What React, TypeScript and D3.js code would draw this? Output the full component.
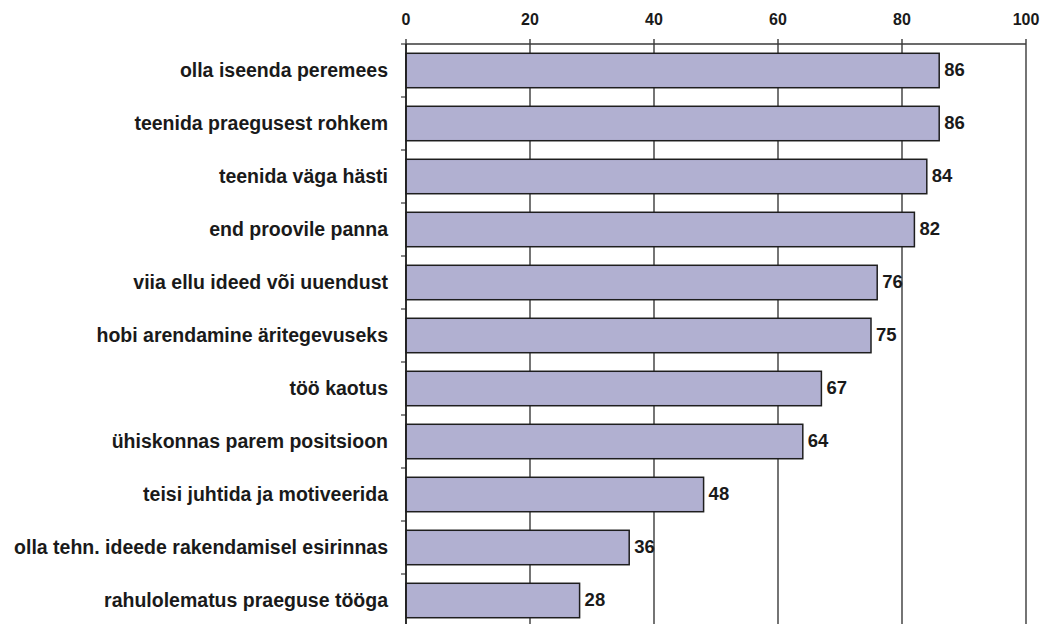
import React from "react";
import * as d3 from "d3";

const categories = [
  "olla iseenda peremees",
  "teenida praegusest rohkem",
  "teenida väga hästi",
  "end proovile panna",
  "viia ellu ideed või uuendust",
  "hobi arendamine äritegevuseks",
  "töö kaotus",
  "ühiskonnas parem positsioon",
  "teisi juhtida ja motiveerida",
  "olla tehn. ideede rakendamisel esirinnas",
  "rahulolematus praeguse tööga",
];
const values = [86, 86, 84, 82, 76, 75, 67, 64, 48, 36, 28];
const xTicks = [0, 20, 40, 60, 80, 100];

const W = 1040;
const H = 624;
const left = 406;
const right = 1026;
const top = 44;
const bandStep = 53;

export default function App() {
  const x = d3.scaleLinear().domain([0, 100]).range([left, right]);
  const y = d3
    .scaleBand<string>()
    .domain(categories)
    .range([top, top + bandStep * categories.length])
    .paddingInner(0.35)
    .paddingOuter(0.175);
  const bottom = top + bandStep * categories.length;
  const font = "'Liberation Sans', Arial, Helvetica, sans-serif";
  const grid = "#3a3a3a";

  return (
    <svg
      width={W}
      height={H}
      style={{ position: "absolute", left: 0, top: 0, display: "block", background: "#fff" }}
      fontFamily={font}
    >
      {/* vertical gridlines with top tick marks */}
      {xTicks.map((t) => (
        <g key={t}>
          <line x1={x(t)} x2={x(t)} y1={top - 5} y2={bottom} stroke={grid} strokeWidth={1.4} />
          <text
            x={x(t)}
            y={24.5}
            textAnchor="middle"
            fontSize={16}
            fontWeight="bold"
            fill="#1a1a1a"
          >
            {t}
          </text>
        </g>
      ))}
      {/* top axis line */}
      <line x1={x(0)} x2={x(100)} y1={top} y2={top} stroke={grid} strokeWidth={1.4} />
      {/* category axis ticks */}
      {d3.range(categories.length + 1).map((i) => (
        <line
          key={i}
          x1={x(0) - 5}
          x2={x(0)}
          y1={top + i * bandStep}
          y2={top + i * bandStep}
          stroke={grid}
          strokeWidth={1.2}
        />
      ))}
      {/* bars */}
      {categories.map((c, i) => (
        <g key={c}>
          <rect
            x={x(0)}
            y={y(c)!}
            width={x(values[i]) - x(0)}
            height={y.bandwidth()}
            fill="#b1b0d1"
            stroke="#1e1e1e"
            strokeWidth={1.5}
          />
          <text
            x={x(values[i]) + 5}
            y={y(c)! + y.bandwidth() / 2}
            dy="0.28em"
            fontSize={18.5}
            fontWeight="bold"
            fill="#1a1a1a"
          >
            {values[i]}
          </text>
          <text
            x={388}
            y={y(c)! + y.bandwidth() / 2}
            dy="0.32em"
            textAnchor="end"
            fontSize={19.5}
            fontWeight="bold"
            fill="#1a1a1a"
          >
            {c}
          </text>
        </g>
      ))}
      {/* left axis line */}
      <line x1={x(0)} x2={x(0)} y1={top} y2={bottom} stroke="#1e1e1e" strokeWidth={1.6} />
    </svg>
  );
}
